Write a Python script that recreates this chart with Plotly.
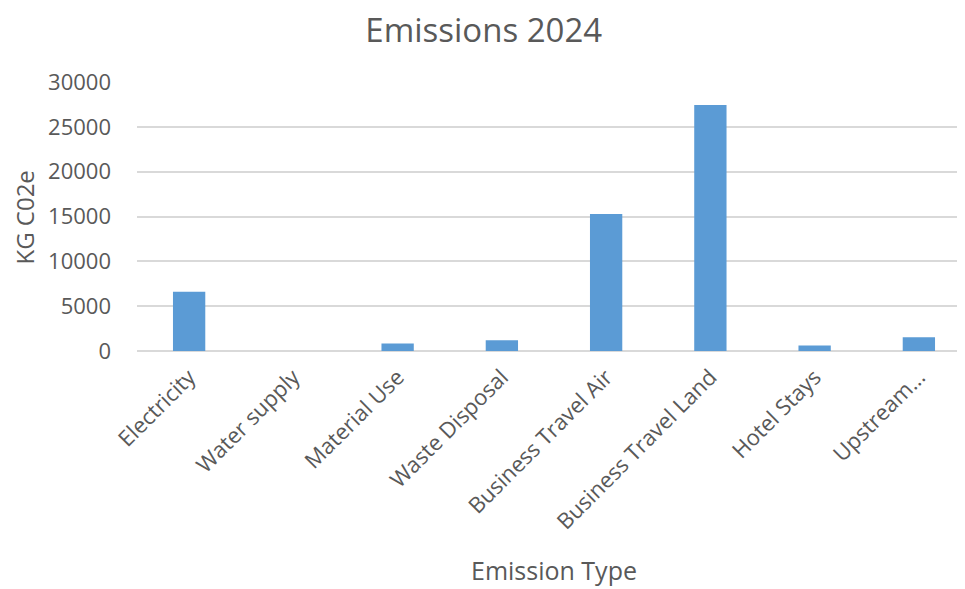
import plotly.graph_objects as go

categories = ["Electricity", "Water supply", "Material Use", "Waste Disposal",
              "Business Travel Air", "Business Travel Land", "Hotel Stays", "Upstream..."]
values = [6600, 0, 840, 1210, 15270, 27430, 615, 1545]
y_ticks = [0, 5000, 10000, 15000, 20000, 25000, 30000]

TXT = "#595959"
FONT = "Open Sans"

fig = go.Figure(go.Bar(
    x=categories, y=values,
    marker=dict(color="#5B9BD5", line=dict(width=0)),
    width=0.31,
))

fig.update_layout(
    width=965, height=581,
    margin=dict(l=129, r=2, t=74, b=238),
    paper_bgcolor="white", plot_bgcolor="white",
    font=dict(family=FONT, color=TXT, size=22),
    title=dict(text="Emissions 2024", x=0.493, xanchor="center", y=0.962, yanchor="middle",
               font=dict(family=FONT, size=33, color=TXT)),
    showlegend=False,
    bargap=0.69,
    annotations=[dict(
        text="KG C02e", textangle=-90, showarrow=False,
        xref="paper", yref="paper", x=-0.1343, y=0.496,
        xanchor="center", yanchor="middle",
        font=dict(family=FONT, size=24, color=TXT),
    )],
)
fig.update_xaxes(
    tickangle=-45, tickfont=dict(size=22, color=TXT), ticklabelstandoff=8,
    title=dict(text="Emission Type", font=dict(size=25, color=TXT), standoff=28),
    showgrid=False, showline=False, ticks="", automargin=False,
)
fig.update_yaxes(
    range=[0, 30000], tickvals=y_ticks, tickformat="d",
    tickfont=dict(size=22, color=TXT), ticklabelstandoff=25,
    showgrid=True, gridcolor="#D9D9D9", gridwidth=1.5,
    zeroline=True, zerolinecolor="#D9D9D9", zerolinewidth=1.5,
    showline=False, automargin=False,
)

fig.write_html("out.html")
